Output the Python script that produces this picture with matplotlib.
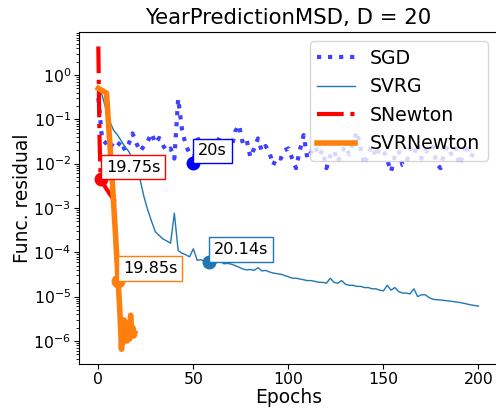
import numpy as np
import matplotlib
matplotlib.use("Agg")
import matplotlib.pyplot as plt

# epochs for SGD / SVRG (one point every 2 epochs)
epochs = np.arange(0, 201, 2)

sgd = [0.30, 0.035, 0.029, 0.022, 0.030, 0.025, 0.032, 0.020, 0.028, 0.048,
       0.029, 0.019, 0.025, 0.032, 0.048, 0.029, 0.038, 0.026, 0.019, 0.022,
       0.013, 0.29, 0.060, 0.026, 0.017, 0.0102, 0.040, 0.025, 0.018, 0.0093,
       0.020, 0.028, 0.040, 0.025, 0.030, 0.022, 0.053, 0.074, 0.029, 0.035,
       0.014, 0.022, 0.037, 0.019, 0.025, 0.018, 0.0093, 0.014, 0.013, 0.020,
       0.022, 0.013, 0.0079, 0.020, 0.044, 0.013, 0.018, 0.025, 0.015, 0.020,
       0.0079, 0.015, 0.020, 0.011, 0.018, 0.025, 0.016, 0.030, 0.053, 0.022,
       0.0093, 0.018, 0.025, 0.014, 0.022, 0.020, 0.012, 0.0066, 0.015, 0.020,
       0.0093, 0.010, 0.022, 0.016, 0.028, 0.013, 0.020, 0.017, 0.024, 0.010,
       0.0079, 0.018, 0.025, 0.015, 0.022, 0.0093, 0.016, 0.028, 0.014, 0.019,
       0.019]

svrg = [0.45, 0.35, 0.17, 0.09, 0.057, 0.045, 0.033, 0.024, 0.019, 0.012,
        0.0075, 0.0043, 0.0018, 0.0009, 0.0005, 0.00029, 0.00024, 0.00020, 0.00018, 0.00016,
        0.00076, 0.00011, 9.5e-5, 8.8e-5, 7.9e-5, 1.2e-4, 6.6e-5, 6.8e-5, 6.3e-5, 6.1e-5,
        6.2e-5, 5.8e-5, 6.4e-5, 5.5e-5, 5.6e-5, 5.4e-5, 5.0e-5, 4.6e-5, 4.2e-5, 4.0e-5,
        4.1e-5, 3.9e-5, 4.5e-5, 3.8e-5, 3.9e-5, 3.6e-5, 3.4e-5, 3.3e-5, 3.2e-5, 3.0e-5,
        2.8e-5, 2.6e-5, 2.6e-5, 2.5e-5, 2.4e-5, 2.3e-5, 2.3e-5, 2.2e-5, 2.1e-5, 2.1e-5,
        2.0e-5, 2.6e-5, 2.1e-5, 2.0e-5, 2.3e-5, 1.9e-5, 1.8e-5, 1.8e-5, 1.7e-5, 1.7e-5,
        1.6e-5, 1.6e-5, 1.5e-5, 1.5e-5, 1.4e-5, 1.35e-5, 1.8e-5, 1.4e-5, 1.6e-5, 1.3e-5,
        1.2e-5, 1.2e-5, 1.15e-5, 1.5e-5, 1.0e-5, 1.1e-5, 1.1e-5, 9.5e-6, 8.7e-6, 8.5e-6,
        8.4e-6, 8.2e-6, 8.0e-6, 7.8e-6, 7.6e-6, 7.4e-6, 7.1e-6, 6.8e-6, 6.5e-6, 6.3e-6,
        6.1e-6]

snewton_ep = [0, 0.1, 0.2, 0.3, 0.4, 0.5, 0.6, 0.8, 1.0, 1.4, 4.0, 7.0, 10.0]
snewton = [4.4, 2.2, 1.0, 0.45, 0.2, 0.09, 0.045, 0.02, 0.009, 0.0044, 0.0028, 0.0018, 0.0012]

svrn_ep = [0, 4.3, 6.2, 7.5, 8.9, 10.4, 11.3, 12.2, 12.6, 13.0, 13.5, 14.0, 14.6,
           15.2, 15.8, 16.4, 17.0, 17.6, 18.2, 18.8, 19.2]
svrn = [0.50, 0.39, 0.023, 0.0031, 3.2e-4, 2.3e-5, 5e-6, 6.5e-7, 2.5e-6, 9e-7, 3e-6,
        1.2e-6, 2.6e-6, 1.0e-6, 2.2e-6, 1.1e-6, 3.8e-6, 1.3e-6, 2.0e-6, 1.3e-6, 1.5e-6]

# time markers: (epoch, value, label)
marks = [(50, 0.0102, "20s", "blue"),
         (58, 6.1e-5, "20.14s", "tab:blue"),
         (1.4, 0.0044, "19.75s", "red"),
         (10.4, 2.3e-5, "19.85s", "tab:orange")]

fig = plt.figure(figsize=(4.96, 4.11), dpi=100)
ax = fig.add_axes([0.1599, 0.1144, 0.8431, 0.8078])

ax.plot(epochs, sgd, ':', color='blue', alpha=0.75, lw=3, label='SGD')
ax.plot(epochs, svrg, '-', color='tab:blue', lw=1, label='SVRG')
ax.plot(snewton_ep, snewton, '-.', color='red', lw=3, label='SNewton')
ax.plot(svrn_ep, svrn, '-', color='tab:orange', lw=4, label='SVRNewton')

for x, y, txt, c in marks:
    ax.plot(x, y, 'o', color=c, ms=9, zorder=5)
    ax.annotate(txt, xy=(x, y), xytext=(3.5, 3.5), textcoords='offset points',
                ha='left', va='bottom', fontsize=11.6, zorder=6,
                bbox=dict(boxstyle='square,pad=0.3', fc='white', ec=c, lw=1))

ax.set_yscale('log')
ax.set_xlim(-10, 210)
ax.set_ylim(10**-6.52, 10**0.97)
ax.set_xticks([0, 50, 100, 150, 200])
ax.tick_params(labelsize=11.3, pad=2.5)
ax.set_xlabel('Epochs', fontsize=13.4, labelpad=0.5)
ax.set_ylabel('Func. residual', fontsize=13.4, labelpad=1)
ax.set_title('YearPredictionMSD, D = 20', fontsize=15.3)
ax.legend(loc='upper right', fontsize=13.6)

fig.savefig('out.png', dpi=100)
